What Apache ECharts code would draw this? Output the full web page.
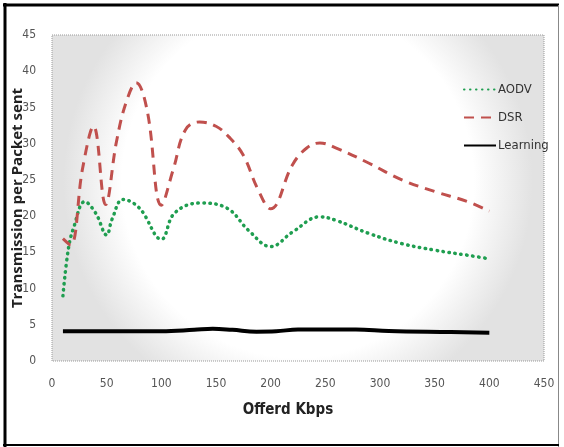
<!DOCTYPE html>
<html>
<head>
<meta charset="utf-8">
<script src="https://cdn.jsdelivr.net/npm/echarts@6/dist/echarts.min.js"></script>
<style>html,body{margin:0;padding:0;background:#fff;}#c{width:564px;height:447px;}</style>
</head>
<body>
<div id="c"></div>
<script>
// x-axis ticks
const xTicks = [0, 50, 100, 150, 200, 250, 300, 350, 400, 450];
const yTicks = [0, 5, 10, 15, 20, 25, 30, 35, 40, 45];

// AODV
const aodvX = [10, 15, 20, 30, 40, 50, 55, 65, 80, 100, 112, 135, 160, 180, 200, 220, 245, 260, 290, 320, 350, 380, 400];
const aodvY = [9.0, 15.5, 18.5, 22.0, 20.4, 17.4, 19.6, 22.3, 21.1, 16.8, 20.4, 21.8, 21.1, 18.0, 15.8, 17.8, 19.9, 19.4, 17.6, 16.2, 15.3, 14.6, 14.1];

// DSR
const dsrX = [10, 17, 28, 38, 49, 59, 68, 77, 87, 100, 111, 122, 135, 150, 162, 175, 188, 200, 220, 233, 245, 260, 290, 320, 350, 380, 400];
const dsrY = [16.9, 16.0, 26.6, 32.4, 21.6, 30.3, 35.8, 38.4, 34.6, 21.5, 26.5, 31.9, 33.0, 32.4, 30.9, 28.4, 23.8, 21.0, 27.1, 29.4, 30.1, 29.4, 27.3, 25.0, 23.4, 22.0, 20.7];

// Learning
const learnX = [10, 100, 130, 147, 165, 187, 205, 225, 278, 308, 365, 400];
const learnY = [4.1, 4.1, 4.3, 4.45, 4.3, 4.05, 4.1, 4.35, 4.35, 4.15, 4.0, 3.9];

const zip = (xs, ys) => xs.map((x, i) => [x, ys[i]]);

const chart = echarts.init(document.getElementById('c'), null, {renderer: 'canvas'});
const G = {left: 52, top: 35, right: 20, bottom: 86};
const font = "'Liberation Sans Narrow', 'DejaVu Sans Condensed', 'Liberation Sans', sans-serif";

chart.setOption({
  animation: false,
  backgroundColor: '#fff',
  grid: {
    left: G.left, top: G.top, right: G.right, bottom: G.bottom,
    outerBoundsMode: 'none',
    containLabel: false,
    show: true,
    borderWidth: 0,
    backgroundColor: {
      type: 'radial', x: 0.5, y: 0.45, r: 0.72,
      colorStops: [
        {offset: 0, color: '#ffffff'},
        {offset: 0.75, color: '#ffffff'},
        {offset: 1, color: '#e2e2e2'}
      ]
    }
  },
  legend: {
    orient: 'vertical',
    left: 458, top: 78,
    itemWidth: 32, itemHeight: 14, itemGap: 15,
    itemStyle: {opacity: 0},
    textStyle: {fontFamily: font, fontSize: 13, color: '#333', padding: [0,0,0,-3]},
    data: ['AODV', 'DSR', 'Learning']
  },
  xAxis: {
    type: 'value', min: 0, max: 450, interval: 50,
    axisLine: {show: false}, axisTick: {show: false}, splitLine: {show: false},
    axisLabel: {margin: 17, fontFamily: font, fontSize: 12, color: '#555'},
    name: 'Offerd Kbps', nameLocation: 'middle', nameGap: 42, nameMoveOverlap: false,
    nameTextStyle: {fontFamily: font, fontSize: 15, fontWeight: 'bold', color: '#222', padding: [0, 20, 0, 0]}
  },
  yAxis: {
    type: 'value', min: 0, max: 45, interval: 5,
    axisLine: {show: false}, axisTick: {show: false}, splitLine: {show: false},
    axisLabel: {margin: 16, fontFamily: font, fontSize: 12, color: '#555'},
    name: 'Transmission per Packet sent', nameLocation: 'middle', nameGap: 27, nameMoveOverlap: false,
    nameTextStyle: {fontFamily: "'Open Sans', 'DejaVu Sans', sans-serif", fontSize: 15, fontWeight: 'bold', color: '#222'}
  },
  graphic: [
    {type: 'rect', silent: true, z: 1,
     shape: {x: G.left, y: G.top, width: 564 - G.left - G.right, height: 447 - G.top - G.bottom},
     style: {fill: 'none', stroke: '#999', lineWidth: 1, lineDash: [1, 1]}},
    {type: 'line', shape: {x1: 5, y1: 3, x2: 5, y2: 447}, style: {stroke: '#000', lineWidth: 3}},
    {type: 'line', shape: {x1: 3, y1: 5, x2: 559, y2: 5}, style: {stroke: '#000', lineWidth: 3}},
    {type: 'line', shape: {x1: 558.5, y1: 5, x2: 558.5, y2: 447}, style: {stroke: '#888', lineWidth: 1}},
    {type: 'line', shape: {x1: 3, y1: 445, x2: 559, y2: 445}, style: {stroke: '#000', lineWidth: 2}}
  ],
  series: [
    {name: 'AODV', type: 'line', smooth: 0.4, symbol: 'none',
     data: zip(aodvX, aodvY), z: 3,
     lineStyle: {color: '#1f9e50', width: 3.5, type: [0.5, 5.5], cap: 'round'},
     itemStyle: {color: '#1f9e50'}},
    {name: 'DSR', type: 'line', smooth: 0.4, symbol: 'none',
     data: zip(dsrX, dsrY), z: 3,
     lineStyle: {color: '#c0504d', width: 3, type: [10, 7]},
     itemStyle: {color: '#c0504d'}},
    {name: 'Learning', type: 'line', smooth: 0.4, symbol: 'none',
     data: zip(learnX, learnY), z: 3,
     lineStyle: {color: '#000', width: 4},
     itemStyle: {color: '#000'}}
  ]
});
</script>
</body>
</html>
